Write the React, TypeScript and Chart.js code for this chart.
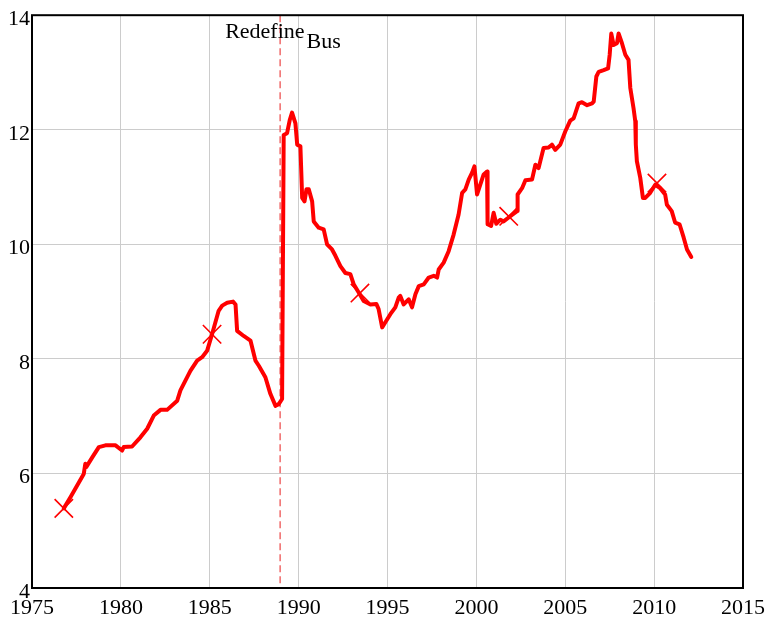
import React, { useEffect, useRef } from "react";
import { Chart, registerables } from "chart.js";

Chart.register(...registerables);

const years = [
  1976.79, 1977.17, 1977.54, 1977.91, 1978.0, 1978.05, 1978.39, 1978.76, 1979.13, 1979.7,
  1980.07, 1980.16, 1980.63, 1981.1, 1981.48, 1981.85, 1982.23, 1982.6, 1983.17, 1983.35,
  1983.63, 1983.91, 1984.29, 1984.57, 1984.85, 1985.13, 1985.5, 1985.7, 1985.98, 1986.31,
  1986.45, 1986.54, 1986.91, 1987.29, 1987.57, 1987.76, 1988.13, 1988.41, 1988.7, 1988.88,
  1989.07, 1989.16, 1989.35, 1989.5, 1989.63, 1989.82, 1989.92, 1990.1, 1990.2, 1990.33,
  1990.44, 1990.57, 1990.76, 1990.85, 1991.13, 1991.41, 1991.6, 1991.88, 1992.07, 1992.35,
  1992.63, 1992.91, 1993.1, 1993.38, 1993.66, 1994.04, 1994.37, 1994.5, 1994.7, 1994.88,
  1995.16, 1995.44, 1995.63, 1995.72, 1995.91, 1996.19, 1996.38, 1996.57, 1996.76, 1997.04,
  1997.32, 1997.6, 1997.79, 1997.88, 1998.16, 1998.44, 1998.72, 1999.0, 1999.2, 1999.38,
  1999.57, 1999.76, 1999.89, 2000.04, 2000.22, 2000.41, 2000.6, 2000.63, 2000.83, 2000.97,
  2001.12, 2001.35, 2001.53, 2001.91, 2002.29, 2002.32, 2002.57, 2002.76, 2003.13, 2003.32,
  2003.5, 2003.78, 2004.06, 2004.25, 2004.44, 2004.72, 2005.0, 2005.28, 2005.47, 2005.57,
  2005.75, 2005.94, 2006.23, 2006.51, 2006.6, 2006.75, 2006.88, 2007.16, 2007.41, 2007.5,
  2007.59, 2007.72, 2007.91, 2008.0, 2008.19, 2008.38, 2008.56, 2008.66, 2008.84, 2008.94,
  2008.97, 2009.03, 2009.22, 2009.37, 2009.5, 2009.78, 2010.06, 2010.34, 2010.62, 2010.72,
  2010.99, 2011.18, 2011.43, 2011.66, 2011.85, 2012.09,
];

const values = [
  5.39, 5.59, 5.79, 5.99, 6.17, 6.11, 6.28, 6.46, 6.49, 6.49,
  6.4, 6.46, 6.47, 6.63, 6.78, 7.01, 7.11, 7.11, 7.27, 7.45,
  7.62, 7.79, 7.97, 8.03, 8.14, 8.43, 8.84, 8.93, 8.98, 9.0,
  8.95, 8.49, 8.4, 8.32, 7.97, 7.88, 7.68, 7.39, 7.18, 7.21,
  7.3, 11.91, 11.94, 12.17, 12.3, 12.11, 11.74, 11.71, 10.81, 10.75,
  10.96, 10.96, 10.75, 10.4, 10.29, 10.26, 10.0, 9.91, 9.8, 9.62,
  9.5, 9.48, 9.3, 9.16, 9.01, 8.95, 8.96, 8.87, 8.55, 8.64,
  8.78, 8.9, 9.07, 9.1, 8.95, 9.04, 8.9, 9.13, 9.27, 9.3,
  9.42, 9.45, 9.42, 9.56, 9.68, 9.88, 10.17, 10.52, 10.9, 10.96,
  11.13, 11.25, 11.36, 10.87, 11.04, 11.22, 11.27, 10.35, 10.32, 10.55,
  10.36, 10.43, 10.4, 10.49, 10.58, 10.87, 10.98, 11.12, 11.13, 11.39,
  11.33, 11.68, 11.69, 11.74, 11.65, 11.74, 11.97, 12.16, 12.2, 12.29,
  12.46, 12.48, 12.43, 12.46, 12.49, 12.93, 13.01, 13.04, 13.07, 13.31,
  13.68, 13.48, 13.51, 13.68, 13.51, 13.31, 13.22, 12.73, 12.38, 12.15,
  11.74, 11.45, 11.16, 10.81, 10.81, 10.9, 11.04, 10.98, 10.87, 10.69,
  10.58, 10.38, 10.35, 10.12, 9.91, 9.78,
];

const markerYears = [1976.79, 1985.13, 1993.45, 2001.82, 2010.16];
const markerValues = [5.39, 8.43, 9.15, 10.49, 11.07];

const xTicks = [1975, 1980, 1985, 1990, 1995, 2000, 2005, 2010, 2015];
const yTicks = [4, 6, 8, 10, 12, 14];

const eventYear = 1988.96;
const eventLabel = "Redefine";
const eventSub = "Bus";

const FONT = '"Liberation Serif", "Times New Roman", serif';

const overlayPlugin = {
  id: "overlay",
  beforeDatasetsDraw(chart: any) {
    const { ctx, chartArea, scales } = chart;
    const x = scales.x.getPixelForValue(eventYear);
    ctx.save();
    ctx.strokeStyle = "#f06a6a";
    ctx.lineWidth = 1.5;
    ctx.setLineDash([7, 4]);
    ctx.beginPath();
    ctx.moveTo(x, chartArea.top);
    ctx.lineTo(x, chartArea.bottom);
    ctx.stroke();
    ctx.restore();
  },
  afterDraw(chart: any) {
    const { ctx, chartArea, scales } = chart;
    ctx.save();
    ctx.strokeStyle = "#000";
    ctx.lineWidth = 2;
    ctx.strokeRect(chartArea.left, chartArea.top, chartArea.right - chartArea.left, chartArea.bottom - chartArea.top);
    const x = scales.x.getPixelForValue(eventYear);
    ctx.fillStyle = "#000";
    ctx.font = `22px ${FONT}`;
    ctx.textAlign = "left";
    ctx.textBaseline = "alphabetic";
    const start = x - 55;
    ctx.fillText(eventLabel, start, 38);
    const w = ctx.measureText(eventLabel).width;
    ctx.fillText(eventSub, start + w + 2, 48);
    ctx.restore();
  },
};

export default function App() {
  const ref = useRef<HTMLCanvasElement | null>(null);
  useEffect(() => {
    if (!ref.current) return;
    const chart = new Chart(ref.current, {
      type: "scatter",
      data: {
        datasets: [
          {
            data: years.map((y, i) => ({ x: y, y: values[i] })),
            showLine: true,
            borderColor: "#ff0000",
            backgroundColor: "#ff0000",
            borderWidth: 4,
            pointRadius: 0,
            tension: 0,
            borderJoinStyle: "round",
            borderCapStyle: "round",
          },
          {
            data: markerYears.map((y, i) => ({ x: y, y: markerValues[i] })),
            showLine: false,
            pointStyle: "crossRot",
            pointRadius: 13,
            borderColor: "#ff0000",
            borderWidth: 1.6,
          },
        ],
      },
      options: {
        animation: false,
        responsive: true,
        maintainAspectRatio: false,
        layout: { padding: { top: 13, right: 31, left: 0, bottom: 0 } },
        plugins: { legend: { display: false }, tooltip: { enabled: false } },
        scales: {
          x: {
            type: "linear",
            min: 1975,
            max: 2015,
            afterBuildTicks: (s: any) => {
              s.ticks = xTicks.map((v) => ({ value: v }));
            },
            afterFit: (s: any) => {
              s.height = 36;
            },
            grid: { color: "#cccccc", lineWidth: 1, drawTicks: false },
            border: { display: false },
            ticks: {
              color: "#000",
              font: { family: FONT, size: 22 },
              padding: 7,
              maxRotation: 0,
              autoSkip: false,
              callback: (v: any) => String(v),
            },
          },
          y: {
            type: "linear",
            min: 4,
            max: 14,
            afterBuildTicks: (s: any) => {
              s.ticks = yTicks.map((v) => ({ value: v }));
            },
            afterFit: (s: any) => {
              s.width = 32;
            },
            grid: { color: "#cccccc", lineWidth: 1, drawTicks: false },
            border: { display: false },
            ticks: {
              color: "#000",
              font: { family: FONT, size: 22 },
              padding: 2,
              labelOffset: 4,
              autoSkip: false,
              callback: (v: any) => String(v),
            },
          },
        },
      },
      plugins: [overlayPlugin],
    });
    return () => chart.destroy();
  }, []);
  return (
    <div style={{ position: "fixed", left: 0, top: 0, width: 774, height: 624, background: "#fff" }}>
      <canvas ref={ref} />
    </div>
  );
}
